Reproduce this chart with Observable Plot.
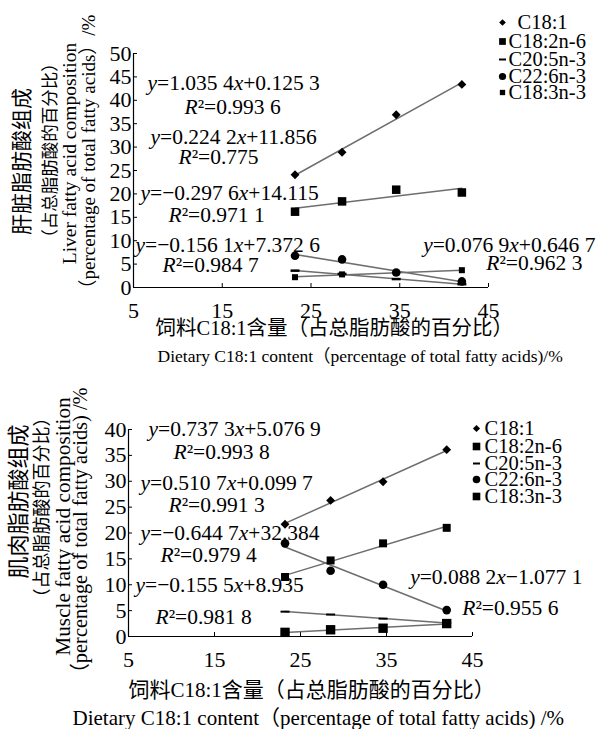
<!DOCTYPE html>
<html><head><meta charset="utf-8">
<script src="https://cdn.jsdelivr.net/npm/d3@7"></script>
<script src="https://cdn.jsdelivr.net/npm/@observablehq/plot@0.6"></script>
<style>
body{margin:0;background:#fff;}
#chart svg{display:block;}
#chart svg text{font-family:'Liberation Serif','Noto Sans CJK SC',serif;}
</style>
</head><body><div id="chart"></div>
<script>
// ---------- data ----------
const dietaryC181 = [23.2, 28.5, 34.6, 42.0];
const seriesNames = ["C18:1", "C18:2n-6", "C20:5n-3", "C22:6n-3", "C18:3n-3"];

const liverC18_1  = [24.1, 28.9, 36.9, 43.4];
const liverC18_2  = [16.2, 18.4, 20.9, 20.3];
const liverC20_5  = [3.6, 2.9, 1.8, 0.7];
const liverC22_6  = [6.8, 6.0, 3.2, 1.3];
const liverC18_3  = [2.2, 2.8, 3.1, 3.7];

const muscleC18_1 = [21.7, 26.3, 29.9, 36.1];
const muscleC18_2 = [11.5, 14.7, 18.0, 21.0];
const muscleC20_5 = [4.8, 4.25, 3.45, 2.6];
const muscleC22_6 = [18.0, 12.7, 10.0, 5.1];
const muscleC18_3 = [0.8, 1.3, 1.6, 2.5];

const xTicks = [5, 15, 25, 35, 45];
const liverYTicks = [0, 5, 10, 15, 20, 25, 30, 35, 40, 45, 50];
const muscleYTicks = [0, 5, 10, 15, 20, 25, 30, 35, 40];

const liverLabels = ["y=1.035 4x+0.125 3", "R²=0.993 6", "y=0.224 2x+11.856", "R²=0.775",
  "y=−0.297 6x+14.115", "R²=0.971 1", "y=−0.156 1x+7.372 6", "R²=0.984 7",
  "y=0.076 9x+0.646 7", "R²=0.962 3"];
const muscleLabels = ["y=0.737 3x+5.076 9", "R²=0.993 8", "y=0.510 7x+0.099 7", "R²=0.991 3",
  "y=−0.644 7x+32.384", "R²=0.979 4", "y=−0.155 5x+8.935", "R²=0.981 8",
  "y=0.088 2x−1.077 1", "R²=0.955 6"];

const xTitleZh = "饲料C18:1含量（占总脂肪酸的百分比）";
const liverXTitleEn = "Dietary C18:1 content（percentage of total fatty acids)/%";
const muscleXTitleEn = "Dietary C18:1 content（percentage of total fatty acids) /%";
const liverYTitle = ["肝脏脂肪酸组成", "（占总脂肪酸的百分比）", "Liver fatty acid composition", "（percentage of total fatty acids）/%"];
const muscleYTitle = ["肌肉脂肪酸组成", "（占总脂肪酸的百分比）", "Muscle fatty acid composition", "（percentage of total fatty acids) /%"];

// ---------- layout & style (page pixel positions) ----------
const FONT = "'Liberation Serif','Noto Sans CJK SC',serif";
const dash = (w, h) => ({draw(ctx) { ctx.rect(-w / 2, -h / 2, w, h); }});

const liverLayout = {
  height: 364, mt: 53, mb: 77, ml: 133, mr: 109, yDomain: [0, 50], yTicks: liverYTicks,
  labelPos: [[147, 83, "start"], [184, 107, "start"], [150, 137, "start"], [178, 157, "start"],
             [140, 193, "start"], [168, 215, "start"], [135, 245, "start"], [162, 265, "start"],
             [595, 245, "end"], [582, 263, "end"]],
  yTitlePos: [[22, 161, 21], [50, 150, 17.5], [69, 153, 19.5], [88, 156, 19]],
  xTitleZh: [155, 328, 20.5], xTitleEn: [157, 356, 17.5],
  legend: {mx: 502, tx: [517, 508, 508, 508, 508], ys: [22, 41, 59, 76, 92], fs: 20.5},
  dots: [{symbol: "diamond2", r: 4.0}, {symbol: "square", r: 4.8}, {symbol: dash(9, 2.5), r: 4},
         {symbol: "circle", r: 4.3}, {symbol: "square", r: 3.4}],
  legendDots: [{symbol: "diamond2", r: 3.0}, {symbol: "square", r: 3.8}, {symbol: dash(7, 2), r: 3},
               {symbol: "circle", r: 3.6}, {symbol: "square", r: 3.0}]
};
const muscleLayout = {
  height: 365, mt: 65, mb: 93, ml: 128, mr: 125, yDomain: [0, 40], yTicks: muscleYTicks, offset: 364,
  labelPos: [[148, 429, "start"], [173, 452, "start"], [140, 483, "start"], [168, 505, "start"],
             [140, 533, "start"], [160, 555, "start"], [135, 585, "start"], [155, 617, "start"],
             [582, 577, "end"], [558, 608, "end"]],
  yTitlePos: [[18, 501, 22], [42, 507, 18], [63, 526, 21.3], [80, 535, 20.4]],
  xTitleZh: [128, 690, 21], xTitleEn: [72, 718, 21],
  legend: {mx: 476, tx: [484, 484, 484, 484, 484], ys: [428, 446, 463, 479, 496], fs: 20.5},
  dots: [{symbol: "diamond2", r: 4.0}, {symbol: "square", r: 4.5}, {symbol: dash(9, 2), r: 4},
         {symbol: "circle", r: 4.3}, {symbol: "square", r: 5.3}],
  legendDots: [{symbol: "diamond2", r: 3.2}, {symbol: "square", r: 4.3}, {symbol: dash(7, 2), r: 3},
               {symbol: "circle", r: 3.8}, {symbol: "square", r: 4.3}]
};

function panel(values, labels, xTitleEn, yTitle, L) {
  const off = L.offset || 0;
  const at = (px, py) => ({frameAnchor: "top-left", dx: px - L.ml, dy: py - off - L.mt});
  const rows = seriesNames.flatMap((s, i) => dietaryC181.map((x, j) => ({series: s, x, y: values[i][j]})));
  const txt = {fill: "#000", fontFamily: FONT, lineAnchor: "middle"};
  const marks = [];
  marks.push(Plot.ruleY([0], {stroke: "#000", strokeWidth: 1.2}));
  marks.push(Plot.ruleX([5], {stroke: "#000", strokeWidth: 1.2}));
  seriesNames.forEach(s => {
    marks.push(Plot.linearRegressionY(rows.filter(d => d.series === s),
      {x: "x", y: "y", stroke: "#6e6e6e", strokeWidth: 1.5, ci: 0}));
  });
  seriesNames.forEach((s, i) => {
    marks.push(Plot.dot(rows.filter(d => d.series === s),
      {x: "x", y: "y", symbol: L.dots[i].symbol, r: L.dots[i].r, fill: "#000", stroke: "none"}));
  });
  labels.forEach((t, i) => {
    const [px, py, anchor] = L.labelPos[i];
    marks.push(Plot.text([t], {text: d => d, ...at(px, py), textAnchor: anchor, fontSize: 21.5, ...txt}));
  });
  yTitle.forEach((t, i) => {
    const [px, py, fs] = L.yTitlePos[i];
    marks.push(Plot.text([t], {text: d => d, ...at(px, py), rotate: -90, textAnchor: "middle",
      fontSize: fs, ...txt}));
  });
  marks.push(Plot.text([xTitleZh], {text: d => d, ...at(L.xTitleZh[0], L.xTitleZh[1]), textAnchor: "start",
    fontSize: L.xTitleZh[2], ...txt}));
  marks.push(Plot.text([xTitleEn], {text: d => d, ...at(L.xTitleEn[0], L.xTitleEn[1]), textAnchor: "start",
    fontSize: L.xTitleEn[2], ...txt}));
  seriesNames.forEach((s, i) => {
    const y = L.legend.ys[i];
    marks.push(Plot.dot([s], {...at(L.legend.mx, y), symbol: L.legendDots[i].symbol, r: L.legendDots[i].r,
      fill: "#000", stroke: "none"}));
    marks.push(Plot.text([s], {text: d => d, ...at(L.legend.tx[i], y), textAnchor: "start",
      fontSize: L.legend.fs, ...txt}));
  });
  const svg = Plot.plot({
    width: 597, height: L.height,
    marginTop: L.mt, marginBottom: L.mb, marginLeft: L.ml, marginRight: L.mr,
    x: {domain: [5, 45], ticks: xTicks, tickSize: -4, tickPadding: 19, label: null},
    y: {domain: L.yDomain, ticks: L.yTicks, tickSize: -4, tickPadding: 6, label: null},
    style: {fontFamily: FONT, fontSize: "22px", background: "#fff", color: "#000", overflow: "visible"},
    marks
  });
  // italic variables in equations
  d3.select(svg).selectAll("text").each(function () {
    const t = this.textContent;
    if (!/^(y=|R²)/.test(t) || this.childElementCount) return;
    const sel = d3.select(this);
    sel.text(null);
    const parts = t.match(/[xyR]|[^xyR]+/g);
    parts.forEach(p => {
      const ts = sel.append("tspan").text(p);
      if (/^[xyR]$/.test(p)) ts.attr("font-style", "italic");
    });
  });
  return svg;
}

const root = document.getElementById("chart");
root.appendChild(panel([liverC18_1, liverC18_2, liverC20_5, liverC22_6, liverC18_3],
  liverLabels, liverXTitleEn, liverYTitle, liverLayout));
root.appendChild(panel([muscleC18_1, muscleC18_2, muscleC20_5, muscleC22_6, muscleC18_3],
  muscleLabels, muscleXTitleEn, muscleYTitle, muscleLayout));
</script>
</body></html>
